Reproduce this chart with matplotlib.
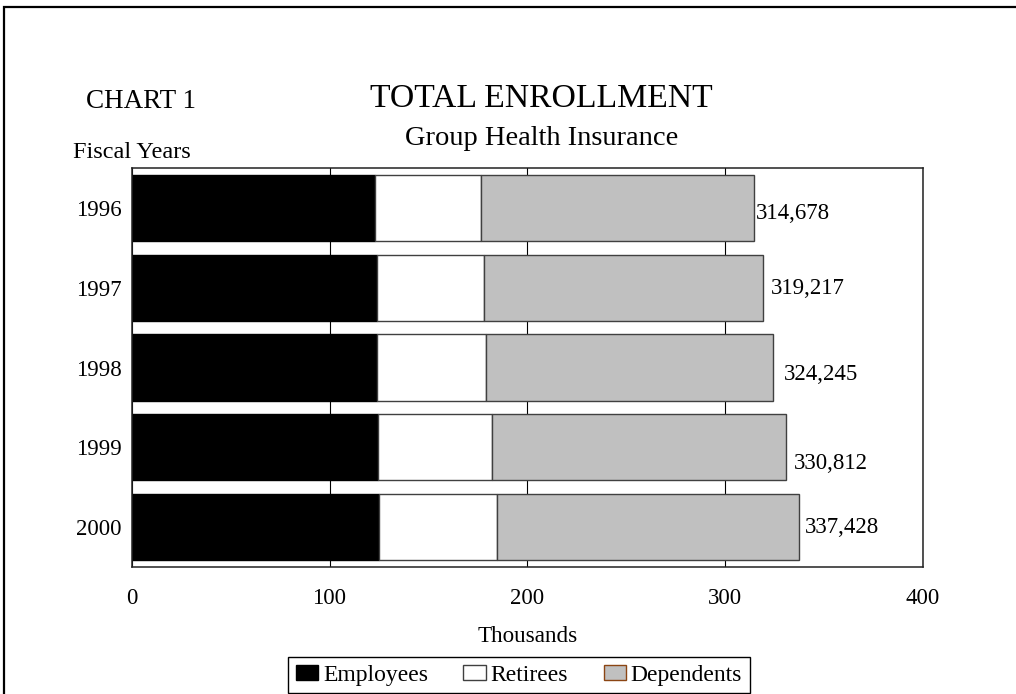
import numpy as np
import matplotlib
matplotlib.use("Agg")
import matplotlib.pyplot as plt
from matplotlib.patches import Rectangle


# ==========================
# Data (thousands)
# ==========================

years = ["1996", "1997", "1998", "1999", "2000"]

employees = [123.1, 124.0, 124.1, 124.3, 125.2]
retirees = [53.7, 53.9, 55.0, 57.9, 59.5]

totals = [314678, 319217, 324245, 330812, 337428]

x_ticks = [0, 100, 200, 300, 400]


emp = np.array(employees)
ret = np.array(retirees)
tot = np.array(totals) / 1000.0

dep = tot - emp - ret   # dependents make up the rest


# label nudges in pixels (x, y down), to follow the original placement
label_dx = [2, 8, 11, 8, 6]
label_dy = [6, 1, 7, 16, 0]


# ==========================
# Figure
# ==========================

plt.rcParams["font.family"] = ["Liberation Serif", "DejaVu Serif"]

fig = plt.figure(
    figsize=(10.16, 6.94),
    dpi=100
)

# outer frame, runs off the right and bottom edges
fig.patches.append(
    Rectangle(
        (4 / 1016, -0.2),
        1.2,
        1.2 - 7 / 694,
        transform=fig.transFigure,
        fill=False,
        edgecolor="black",
        linewidth=1.6
    )
)

ax = fig.add_axes([0.1296, 0.1830, 0.7789, 0.5749])

y = np.arange(len(years))
h = 0.83

ax.barh(y, emp, height=h, color="black",
        edgecolor="black", linewidth=1.0, label="Employees", zorder=2)
ax.barh(y, ret, left=emp, height=h, color="white",
        edgecolor="#404040", linewidth=1.0, label="Retirees", zorder=2)
ax.barh(y, dep, left=emp + ret, height=h, color="#C0C0C0",
        edgecolor="#404040", linewidth=1.0, label="Dependents", zorder=2)


# value labels
for i, t in enumerate(totals):
    ax.annotate(
        f"{t:,}",
        xy=(tot[i], y[i]),
        xytext=(label_dx[i] * 0.72, -label_dy[i] * 0.72),
        textcoords="offset points",
        ha="left",
        va="center",
        fontsize=16.5
    )


ax.set_xlim(0, 400)
ax.set_ylim(4.5, -0.5)

ax.set_xticks(x_ticks)
ax.set_xticklabels([str(v) for v in x_ticks], fontsize=16.5)
ax.set_yticks(y)
ax.set_yticklabels(years, fontsize=16.5)

ax.tick_params(axis="x", length=0, pad=15)
ax.tick_params(axis="y", length=0, pad=7)

ax.grid(axis="x", color="black", linewidth=0.8)
ax.set_axisbelow(True)

for s in ax.spines.values():
    s.set_linewidth(1.1)
    s.set_color("#222222")


# ==========================
# Text
# ==========================

fig.text(86 / 1016, 1 - 108 / 694, "CHART 1",
         fontsize=19.5, ha="left", va="baseline")

fig.text(541 / 1016, 1 - 107 / 694, "TOTAL ENROLLMENT",
         fontsize=24.3, ha="center", va="baseline")

fig.text(542 / 1016, 1 - 145 / 694, "Group Health Insurance",
         fontsize=20.5, ha="center", va="baseline")

fig.text(73 / 1016, 1 - 158 / 694, "Fiscal Years",
         fontsize=17.5, ha="left", va="baseline")

fig.text(528 / 1016, 1 - 642 / 694, "Thousands",
         fontsize=16.7, ha="center", va="baseline")


# ==========================
# Legend
# ==========================

leg = fig.legend(
    loc="upper center",
    bbox_to_anchor=(519 / 1016, 1 - 657 / 694),
    ncol=3,
    fontsize=17,
    frameon=True,
    fancybox=False,
    edgecolor="black",
    framealpha=1,
    handlelength=0.95,
    handleheight=0.6,
    handletextpad=0.2,
    columnspacing=1.5,
    borderpad=0.32,
    borderaxespad=0
)

leg.get_frame().set_linewidth(1.0)
leg.legend_handles[2].set_edgecolor("#8B4513")


fig.savefig("out.png", dpi=100)
plt.close(fig)

print("saved out.png")
